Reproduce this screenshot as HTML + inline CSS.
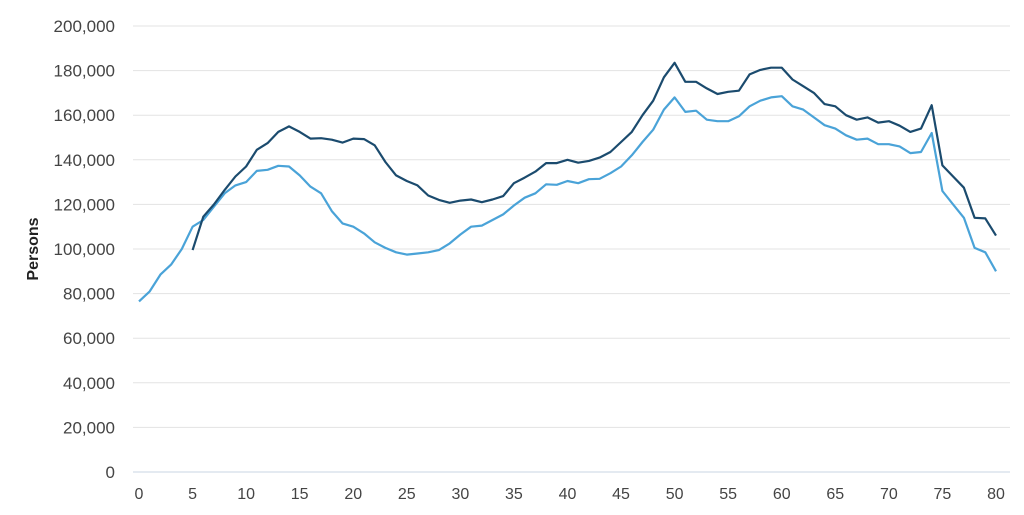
<!DOCTYPE html>
<html><head><meta charset="utf-8"><style>
body{margin:0;background:#fff;width:1024px;height:510px;overflow:hidden;font-family:"Liberation Sans",sans-serif}
</style></head><body>
<svg id="s" width="1024" height="510" xmlns="http://www.w3.org/2000/svg" font-family="Liberation Sans, sans-serif"></svg>
<script>
var L=[76.5,81,88.5,93,100,110,113,119,125,128.5,130,135,135.5,137.3,137,133,128,125,117,111.5,110,107,103,100.5,98.5,97.5,98,98.5,99.5,102.5,106.5,110,110.5,113,115.5,119.5,123,125,129,128.8,130.5,129.5,131.3,131.5,134,137,142,148,153.5,162.5,168,161.5,162,158,157.3,157.3,159.5,164,166.5,168,168.5,164,162.5,159,155.5,154,151,149,149.5,147,147,146,143,143.5,152,126,120,114,100.5,98.5,90];
var D=[99.5,114.5,120,126.5,132.5,137,144.5,147.5,152.5,155,152.5,149.5,149.7,149,147.7,149.5,149.3,146.5,139,133,130.5,128.5,124,122,120.7,121.7,122.2,121,122.2,123.7,129.5,132,134.7,138.5,138.5,140,138.7,139.5,141,143.5,148,152.5,160,166.5,177,183.5,175,175,172,169.5,170.5,171,178.3,180.3,181.3,181.3,176,173,170,165,164,160,158,159,156.7,157.3,155.3,152.5,154,164.5,137.5,132.5,127.5,114,113.7,106];
function X(i){return 139+i*10.7125}function Y(v){return 472-v*2.23}
var h='';
for(var k=0;k<=10;k++){var y=Y(k*20);h+='<line x1="133" x2="1010" y1="'+y+'" y2="'+y+'" stroke="'+(k==0?'#c8d4e3':'#e3e3e3')+'" stroke-width="1"/>';
h+='<text x="115" y="'+(y+6)+'" text-anchor="end" font-size="17" fill="#444">'+(k==0?'0':(k*20)+',000')+'</text>';}
for(var t=0;t<=80;t+=5){h+='<text x="'+X(t)+'" y="499" text-anchor="middle" font-size="16" fill="#444">'+t+'</text>';}
h+='<text transform="translate(38,249) rotate(-90)" text-anchor="middle" font-size="16" font-weight="bold" fill="#222">Persons</text>';
var p='';L.forEach(function(v,i){p+=X(i).toFixed(1)+','+Y(v).toFixed(1)+' '});
h+='<polyline points="'+p+'" fill="none" stroke="#4aa3d8" stroke-width="2.2" stroke-linejoin="round"/>';
p='';D.forEach(function(v,i){p+=X(i+5).toFixed(1)+','+Y(v).toFixed(1)+' '});
h+='<polyline points="'+p+'" fill="none" stroke="#1b4b6e" stroke-width="2.2" stroke-linejoin="round"/>';
document.getElementById('s').innerHTML=h;
</script>
</body></html>
